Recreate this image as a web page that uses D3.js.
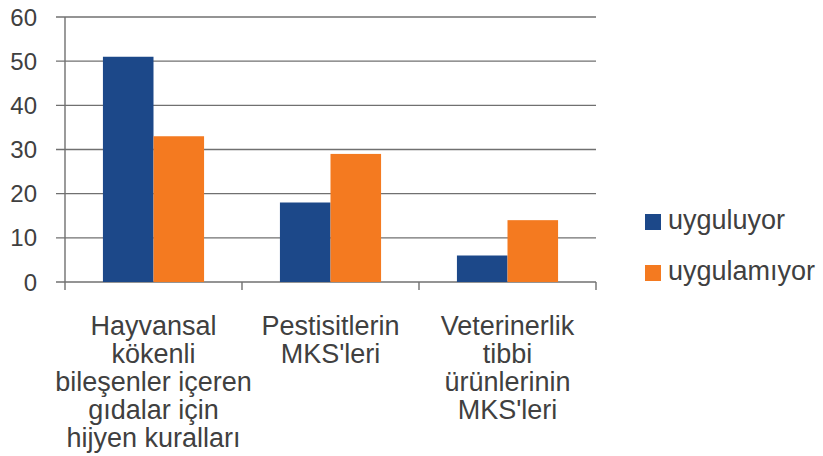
<!DOCTYPE html>
<html>
<head>
<meta charset="utf-8">
<script src="https://cdn.jsdelivr.net/npm/d3@7"></script>
<style>
  body { margin: 0; background: #fff; }
  text { font-family: "Liberation Sans", Arial, sans-serif; fill: #404040; }
</style>
</head>
<body>
<div id="chart"></div>
<script>
// data
var categories = ['hayvansal', 'pestisit', 'veteriner']
var categoryLines = [
    ['Hayvansal', 'kökenli', 'bileşenler içeren', 'gıdalar için', 'hijyen kuralları'],
    ['Pestisitlerin', "MKS'leri"],
    ['Veterinerlik', 'tibbi', 'ürünlerinin', "MKS'leri"]
]
var seriesNames = ['uyguluyor', 'uygulamıyor']
var uyguluyor = [51, 18, 6]
var uygulamiyor = [33, 29, 14]
var yTicks = [0, 10, 20, 30, 40, 50, 60]
var colors = ['#1c4889', '#f47a20']

var width = 823, height = 456
var margin = { top: 17, right: 227, bottom: 174, left: 65 }
var plotW = width - margin.left - margin.right
var plotH = height - margin.top - margin.bottom

var svg = d3.select('#chart').append('svg')
    .attr('width', width)
    .attr('height', height)

var g = svg.append('g')
    .attr('transform', 'translate(' + margin.left + ',' + margin.top + ')')

var x = d3.scaleBand()
    .domain(categories)
    .range([0, plotW])
    .paddingInner(0)
    .paddingOuter(0)

//gap width 150% -> 0.75 of a bar on each side
var x1 = d3.scaleBand()
    .domain(seriesNames)
    .range([0, x.bandwidth()])
    .paddingInner(0)
    .paddingOuter(0.75)

var y = d3.scaleLinear()
    .domain([0, 60])
    .range([plotH, 0])

//gridlines
g.append('g')
    .selectAll('line')
    .data(yTicks)
    .enter().append('line')
    .attr('x1', -9)
    .attr('x2', plotW)
    .attr('y1', function (d) { return y(d) })
    .attr('y2', function (d) { return y(d) })
    .attr('stroke', '#707070')
    .attr('stroke-width', 1.4)

//y labels
g.append('g')
    .selectAll('text')
    .data(yTicks)
    .enter().append('text')
    .attr('x', -28)
    .attr('y', function (d) { return y(d) })
    .attr('dy', '0.36em')
    .attr('text-anchor', 'end')
    .style('font-size', '24px')
    .text(function (d) { return d })

//bars
var rows = categories.map(function (c, i) {
    return { cat: c, values: [uyguluyor[i], uygulamiyor[i]] }
})
g.append('g')
    .selectAll('g')
    .data(rows)
    .enter().append('g')
    .attr('transform', function (d) { return 'translate(' + x(d.cat) + ',0)' })
    .selectAll('rect')
    .data(function (d) { return d.values.map(function (v, i) { return { s: seriesNames[i], v: v, i: i } }) })
    .enter().append('rect')
    .attr('x', function (d) { return x1(d.s) })
    .attr('width', x1.bandwidth())
    .attr('y', function (d) { return y(d.v) })
    .attr('height', function (d) { return plotH - y(d.v) })
    .attr('fill', function (d) { return colors[d.i] })

//y axis line
g.append('line')
    .attr('x1', 0).attr('x2', 0)
    .attr('y1', 0).attr('y2', plotH + 8)
    .attr('stroke', '#707070')
    .attr('stroke-width', 1.4)

//category ticks
var tickXs = categories.map(function (c) { return x(c) + x.bandwidth() })
g.append('g')
    .selectAll('line')
    .data(tickXs)
    .enter().append('line')
    .attr('x1', function (d) { return d })
    .attr('x2', function (d) { return d })
    .attr('y1', plotH)
    .attr('y2', plotH + 8)
    .attr('stroke', '#707070')
    .attr('stroke-width', 1.4)

//category labels
g.append('g')
    .selectAll('text')
    .data(categories)
    .enter().append('text')
    .attr('text-anchor', 'middle')
    .style('font-size', '27px')
    .attr('transform', function (d) { return 'translate(' + (x(d) + x.bandwidth() / 2) + ',' + (plotH + 53) + ')' })
    .each(function (d, i) {
        var t = d3.select(this)
        categoryLines[i].forEach(function (line, j) {
            t.append('tspan')
                .attr('x', 0)
                .attr('y', j * 28)
                .text(line)
        })
    })

//legend
var legend = svg.append('g')
    .attr('transform', 'translate(645,214)')
var items = legend.selectAll('g')
    .data(seriesNames)
    .enter().append('g')
    .attr('transform', function (d, i) { return 'translate(0,' + (i * 51) + ')' })
items.append('rect')
    .attr('width', 16)
    .attr('height', 16)
    .attr('fill', function (d, i) { return colors[i] })
items.append('text')
    .attr('x', 23)
    .attr('y', 15)
    .style('font-size', '27px')
    .text(function (d) { return d })
</script>
</body>
</html>
